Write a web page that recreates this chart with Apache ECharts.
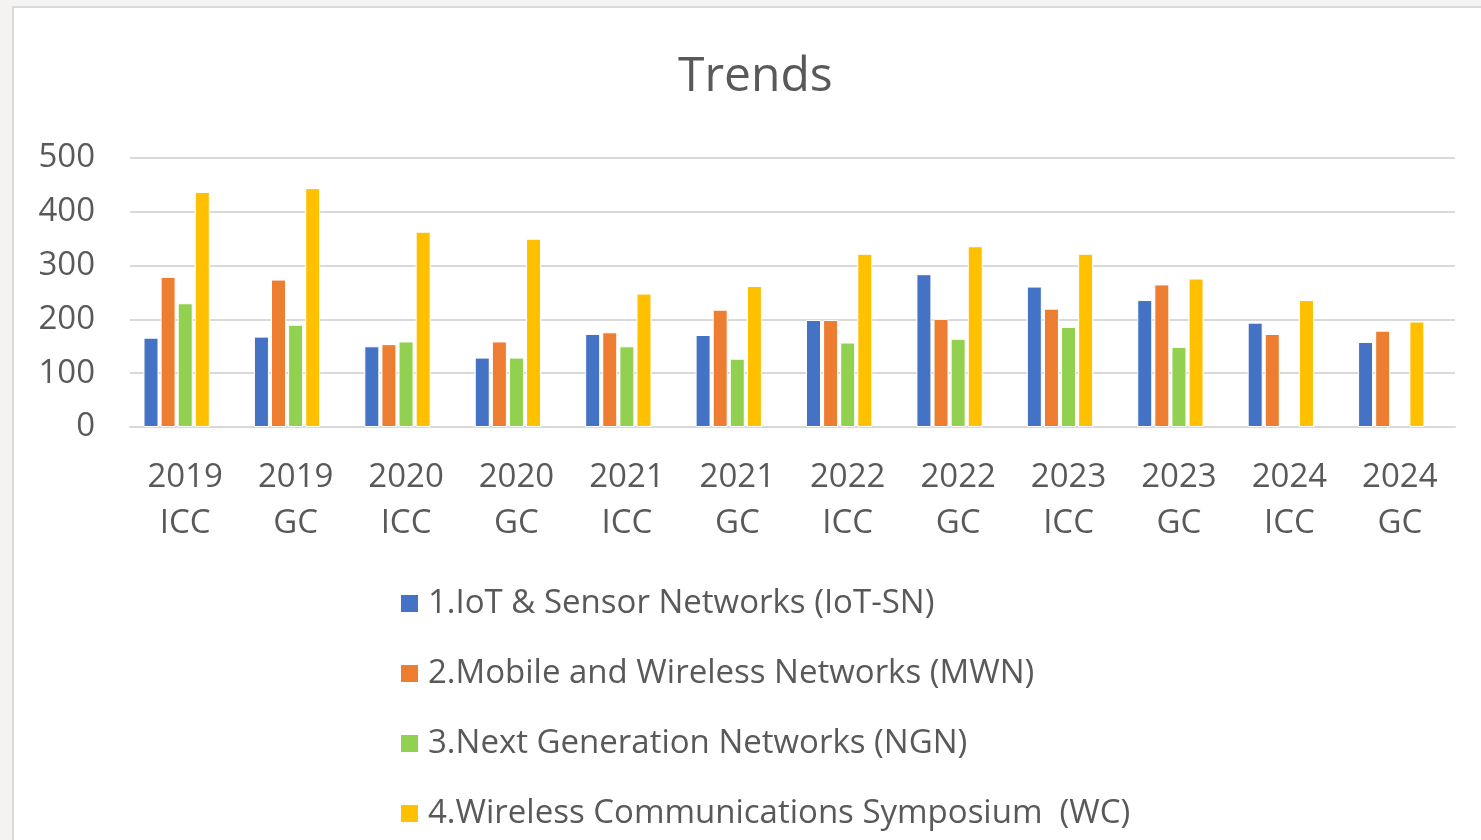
<!DOCTYPE html>
<html>
<head>
<meta charset="utf-8">
<script src="https://cdn.jsdelivr.net/npm/echarts@6/dist/echarts.min.js"></script>
<style>
  html, body { margin: 0; padding: 0; width: 1481px; height: 840px; overflow: hidden; background: #f4f3f1; }
  #frame { position: absolute; left: 12px; top: 6px; width: 1480px; height: 850px; background: #ffffff; border-left: 2px solid #d9d9d9; border-top: 2px solid #d9d9d9; }
  #chart { position: absolute; left: 0; top: 0; width: 1481px; height: 840px; }
</style>
</head>
<body>
<div id="frame"></div>
<div id="chart"></div>
<script>
const categories = ['2019\nICC', '2019\nGC', '2020\nICC', '2020\nGC', '2021\nICC', '2021\nGC',
                    '2022\nICC', '2022\nGC', '2023\nICC', '2023\nGC', '2024\nICC', '2024\nGC'];
const seriesNames = ['1.IoT & Sensor Networks (IoT-SN)', '2.Mobile and Wireless Networks (MWN)',
                     '3.Next Generation Networks (NGN)', '4.Wireless Communications Symposium  (WC)'];
const iotSN = [166, 168, 150, 129, 173, 171, 199, 284, 261, 236, 194, 158];
const mwn   = [279, 274, 154, 159, 176, 218, 199, 201, 220, 265, 173, 179];
const ngn   = [230, 190, 159, 129, 150, 127, 157, 164, 186, 149, null, null];
const wc    = [437, 444, 363, 350, 248, 262, 322, 336, 322, 276, 236, 196];
// empty fifth column slot present in the source chart (no values, not in legend)
const emptySlot = [];
const yTicks = [0, 100, 200, 300, 400, 500];
const colors = ['#4472c4', '#ed7d31', '#92d050', '#ffc000', '#a5a5a5'];

const chart = echarts.init(document.getElementById('chart'), null, { renderer: 'canvas' });
const font = 'Open Sans';
const allData = [iotSN, mwn, ngn, wc, emptySlot];
const allNames = seriesNames.concat(['_empty']);
chart.setOption({
  backgroundColor: 'transparent',
  animation: false,
  color: colors,
  title: {
    text: 'Trends', left: 673, top: 48,
    textStyle: { fontFamily: font, fontSize: 48, fontWeight: 'normal', color: '#595959' }
  },
  legend: {
    orient: 'vertical', left: 394, top: 582,
    itemWidth: 19, itemHeight: 19, itemGap: 37, icon: 'rect',
    textStyle: { fontFamily: font, fontSize: 33, color: '#595959', padding: [0, 0, 0, 4] },
    data: seriesNames
  },
  grid: { left: 130, right: 26, top: 158, bottom: 413, containLabel: false },
  xAxis: {
    type: 'category', data: categories,
    axisLine: { lineStyle: { color: '#d9d9d9', width: 2 } },
    axisTick: { show: false },
    axisLabel: { fontFamily: font, fontSize: 33, color: '#595959', lineHeight: 46, margin: 28, interval: 0 }
  },
  yAxis: {
    type: 'value', min: yTicks[0], max: yTicks[yTicks.length - 1], interval: 100,
    axisLine: { show: false }, axisTick: { show: false },
    splitLine: { lineStyle: { color: '#d9d9d9', width: 2 } },
    axisLabel: { fontFamily: font, fontSize: 33, color: '#595959', margin: 35 }
  },
  series: allNames.map((n, i) => ({
    name: n, type: 'bar', data: allData[i],
    barWidth: 15, barGap: '14%',
    itemStyle: { color: colors[i], borderColor: '#ffffff', borderWidth: 1 }
  }))
});
</script>
</body>
</html>
